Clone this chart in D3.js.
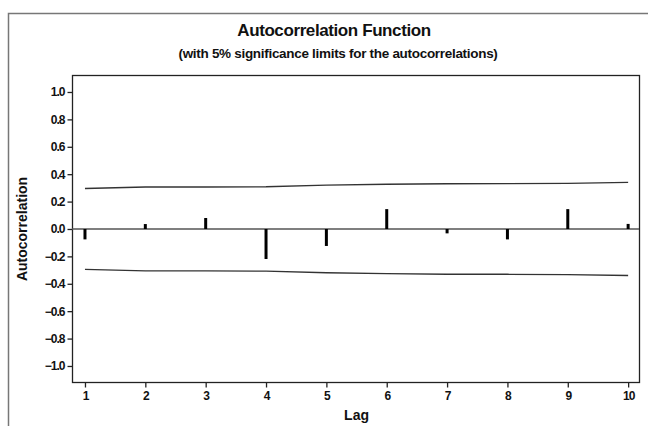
<!DOCTYPE html>
<html>
<head>
<meta charset="utf-8">
<script src="https://cdn.jsdelivr.net/npm/d3@7"></script>
<style>
  body { margin: 0; background: #fff; }
  text { font-family: "Liberation Sans", Arial, sans-serif; font-weight: bold; fill: #111; }
</style>
</head>
<body>
<div id="chart"></div>
<script>
// Data
var lags = [1, 2, 3, 4, 5, 6, 7, 8, 9, 10];
var acf = [-0.076, 0.036, 0.08, -0.219, -0.124, 0.145, -0.032, -0.076, 0.145, 0.037];
var limits = [0.295, 0.306, 0.306, 0.308, 0.32, 0.326, 0.33, 0.331, 0.333, 0.34];
var yTicks = [-1.0, -0.8, -0.6, -0.4, -0.2, 0.0, 0.2, 0.4, 0.6, 0.8, 1.0];

var width = 648, height = 426;
var plot = { left: 72, top: 75, right: 639, bottom: 382 };

var svg = d3.select("#chart").append("svg")
    .attr("width", width)
    .attr("height", height);

// Outer frame (left and top edges only are visible)
svg.append("path")
    .attr("d", "M8.5," + height + "V13.5H" + width)
    .attr("fill", "none")
    .attr("stroke", "#777")
    .attr("stroke-width", 1.5);

// Scales
var x = d3.scaleLinear().domain([0.785, 10.18]).range([plot.left, plot.right]);
var y = d3.scaleLinear().domain([-1.117, 1.124]).range([plot.bottom, plot.top]);

// Plot border
svg.append("rect")
    .attr("x", plot.left + 0.5)
    .attr("y", plot.top + 0.5)
    .attr("width", plot.right - plot.left)
    .attr("height", plot.bottom - plot.top)
    .attr("fill", "none")
    .attr("stroke", "#222")
    .attr("stroke-width", 1.3);

// Axes
var yAxis = svg.append("g")
    .attr("transform", "translate(" + (plot.left + 0.5) + ",0)")
    .call(d3.axisLeft(y).tickValues(yTicks).tickSize(5).tickPadding(3).tickFormat(d3.format(".1f")));
var xAxis = svg.append("g")
    .attr("transform", "translate(0," + (plot.bottom + 0.5) + ")")
    .call(d3.axisBottom(x).tickValues(lags).tickSize(5).tickPadding(4).tickFormat(d3.format("d")));

[yAxis, xAxis].forEach(function(a) {
    a.select(".domain").remove();
    a.selectAll("line").attr("stroke", "#222").attr("stroke-width", 1.3);
    a.selectAll("text").style("font-size", "12px").attr("letter-spacing", "-1px");
});

// Zero line
svg.append("line")
    .attr("x1", plot.left).attr("x2", plot.right)
    .attr("y1", y(0)).attr("y2", y(0))
    .attr("stroke", "#555")
    .attr("stroke-width", 1.5);

// Significance limits
var upper = d3.line()
    .x(function(d, i) { return x(lags[i]); })
    .y(function(d) { return y(d); });
var lower = d3.line()
    .x(function(d, i) { return x(lags[i]); })
    .y(function(d) { return y(-d); });

svg.append("path")
    .attr("d", upper(limits))
    .attr("fill", "none")
    .attr("stroke", "#333")
    .attr("stroke-width", 1.4);
svg.append("path")
    .attr("d", lower(limits))
    .attr("fill", "none")
    .attr("stroke", "#333")
    .attr("stroke-width", 1.4);

// Autocorrelation bars
svg.selectAll(".bar")
    .data(acf)
    .enter().append("line")
    .attr("class", "bar")
    .attr("x1", function(d, i) { return x(lags[i]); })
    .attr("x2", function(d, i) { return x(lags[i]); })
    .attr("y1", y(0))
    .attr("y2", function(d) { return y(d); })
    .attr("stroke", "#000")
    .attr("stroke-width", 3);

// Titles
svg.append("text")
    .attr("x", 334).attr("y", 36)
    .attr("text-anchor", "middle")
    .style("font-size", "17px")
    .attr("letter-spacing", "-0.4px")
    .text("Autocorrelation Function");
svg.append("text")
    .attr("x", 338).attr("y", 58)
    .attr("text-anchor", "middle")
    .style("font-size", "13.5px")
    .attr("letter-spacing", "-0.3px")
    .text("(with 5% significance limits for the autocorrelations)");

svg.append("text")
    .attr("transform", "translate(27," + y(0) + ") rotate(-90)")
    .attr("text-anchor", "middle")
    .style("font-size", "14px")
    .text("Autocorrelation");
svg.append("text")
    .attr("x", x(5.5)).attr("y", 420)
    .attr("text-anchor", "middle")
    .style("font-size", "14px")
    .text("Lag");
</script>
</body>
</html>
